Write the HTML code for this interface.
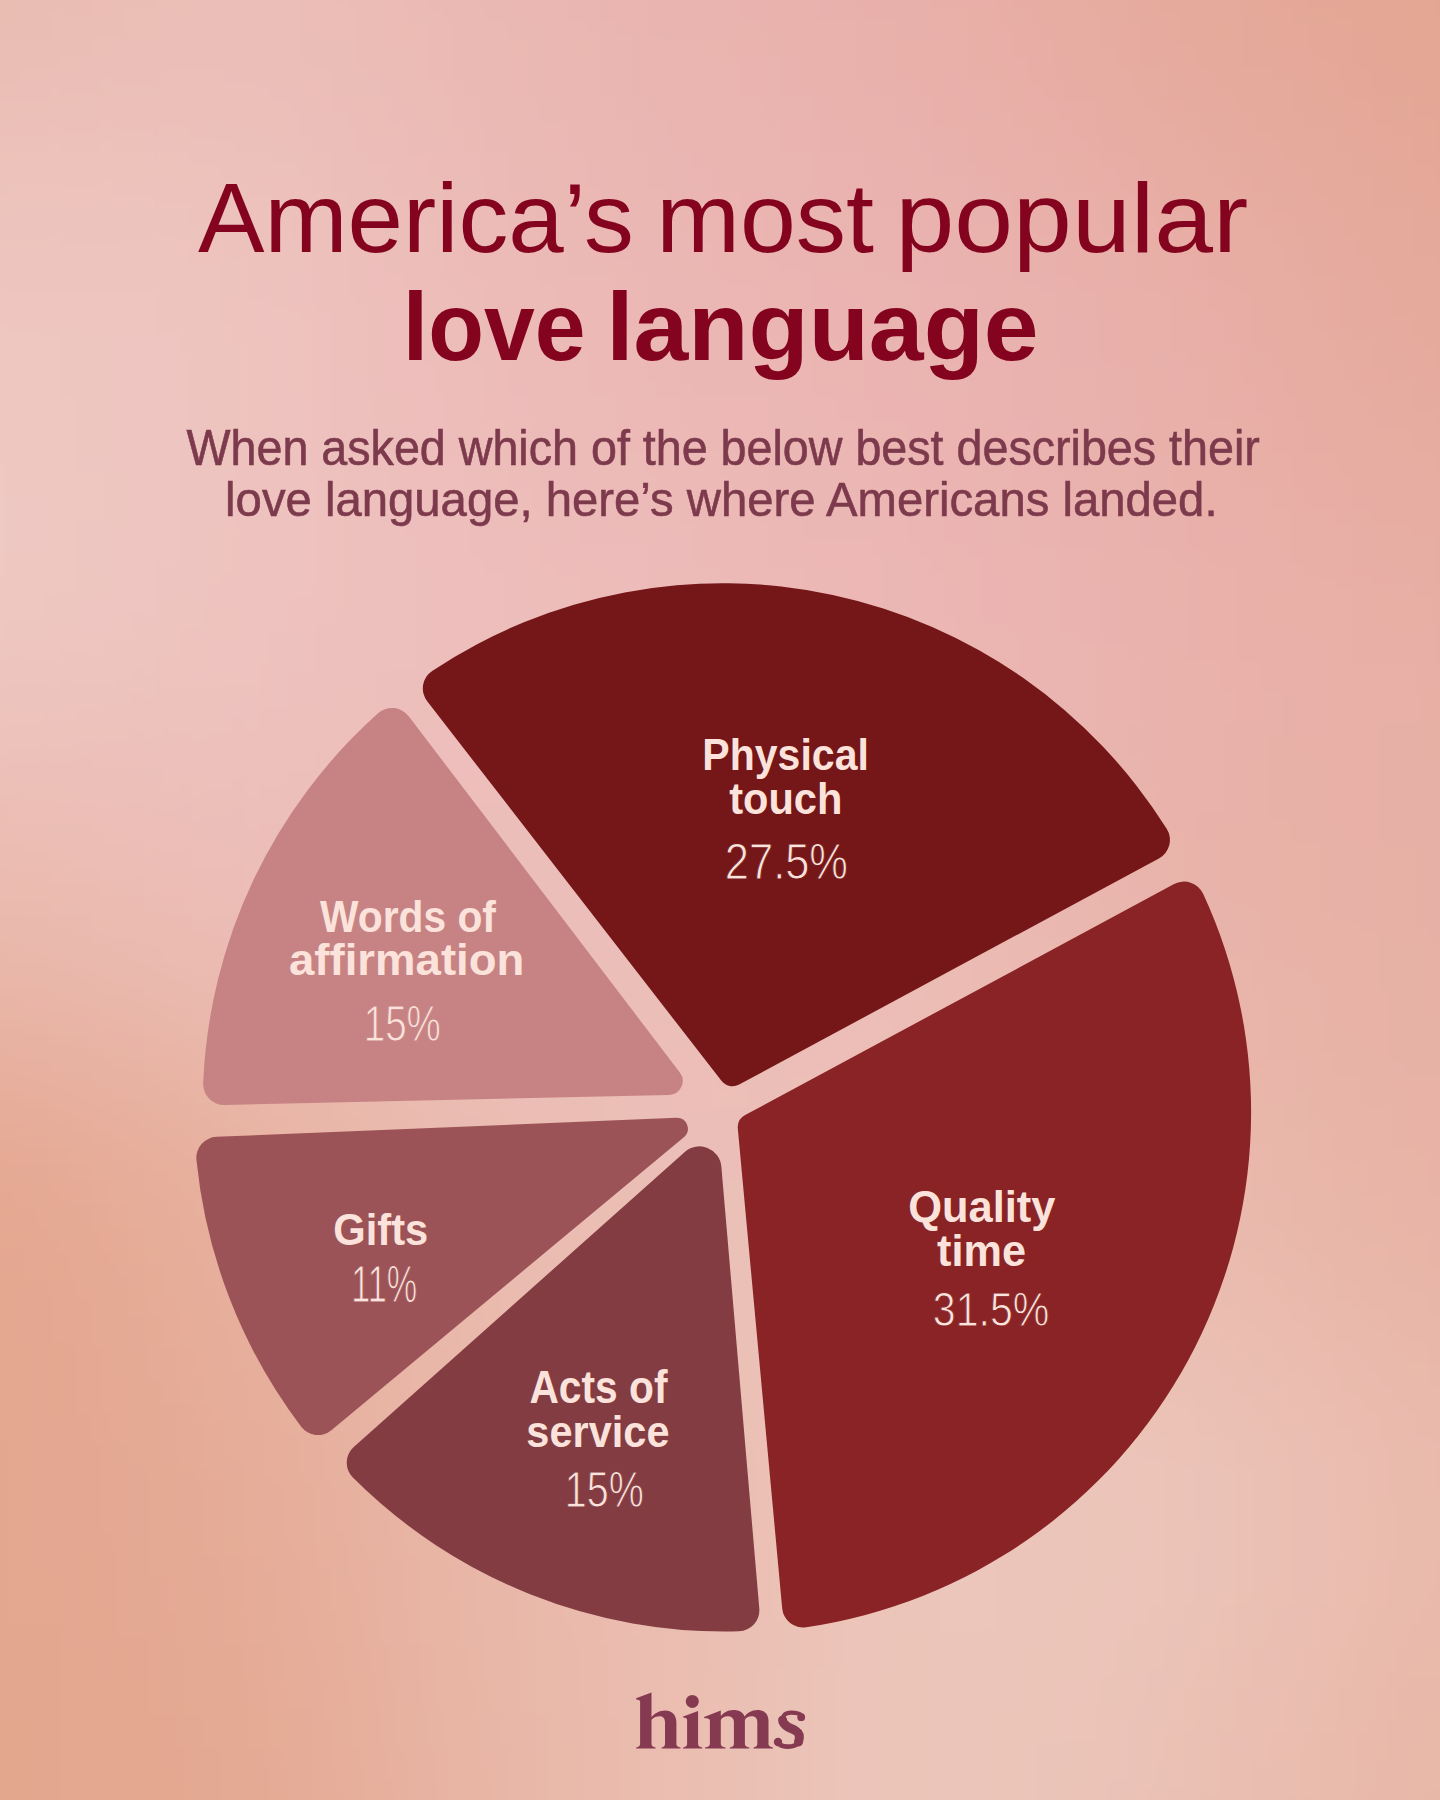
<!DOCTYPE html>
<html><head><meta charset="utf-8"><title>America’s most popular love language</title>
<style>
html,body{margin:0;padding:0;}
body{width:1440px;height:1800px;position:relative;overflow:hidden;background:#e8b5a8;font-family:"Liberation Sans",sans-serif;}
.bg{position:absolute;left:0;top:0;}
.pie{position:absolute;left:0;top:0;}
.tx{position:absolute;left:0;top:0;font-size:100px;line-height:100px;white-space:nowrap;transform-origin:0 0;}
</style></head><body>
<svg class="bg" width="1440" height="1800" viewBox="0 0 1440 1800">
<defs><filter id="bl" x="-50%" y="-50%" width="200%" height="200%" filterUnits="userSpaceOnUse"><feGaussianBlur stdDeviation="110"/></filter></defs>
<g filter="url(#bl)"><rect x="-840.0" y="-1050.0" width="241.0" height="301.0" fill="#e9bbb1"/><rect x="-600.0" y="-1050.0" width="241.0" height="301.0" fill="#e9bbb1"/><rect x="-360.0" y="-1050.0" width="241.0" height="301.0" fill="#e9bbb1"/><rect x="-120.0" y="-1050.0" width="241.0" height="301.0" fill="#e9bbb1"/><rect x="120.0" y="-1050.0" width="241.0" height="301.0" fill="#ebbfb7"/><rect x="360.0" y="-1050.0" width="241.0" height="301.0" fill="#eab8b2"/><rect x="600.0" y="-1050.0" width="241.0" height="301.0" fill="#e9b3ae"/><rect x="840.0" y="-1050.0" width="241.0" height="301.0" fill="#e8afa8"/><rect x="1080.0" y="-1050.0" width="241.0" height="301.0" fill="#e5a99a"/><rect x="1320.0" y="-1050.0" width="241.0" height="301.0" fill="#e3a693"/><rect x="1560.0" y="-1050.0" width="241.0" height="301.0" fill="#e3a693"/><rect x="1800.0" y="-1050.0" width="241.0" height="301.0" fill="#e3a693"/><rect x="2040.0" y="-1050.0" width="241.0" height="301.0" fill="#e3a693"/><rect x="-840.0" y="-750.0" width="241.0" height="301.0" fill="#e9bbb1"/><rect x="-600.0" y="-750.0" width="241.0" height="301.0" fill="#e9bbb1"/><rect x="-360.0" y="-750.0" width="241.0" height="301.0" fill="#e9bbb1"/><rect x="-120.0" y="-750.0" width="241.0" height="301.0" fill="#e9bbb1"/><rect x="120.0" y="-750.0" width="241.0" height="301.0" fill="#ebbfb7"/><rect x="360.0" y="-750.0" width="241.0" height="301.0" fill="#eab8b2"/><rect x="600.0" y="-750.0" width="241.0" height="301.0" fill="#e9b3ae"/><rect x="840.0" y="-750.0" width="241.0" height="301.0" fill="#e8afa8"/><rect x="1080.0" y="-750.0" width="241.0" height="301.0" fill="#e5a99a"/><rect x="1320.0" y="-750.0" width="241.0" height="301.0" fill="#e3a693"/><rect x="1560.0" y="-750.0" width="241.0" height="301.0" fill="#e3a693"/><rect x="1800.0" y="-750.0" width="241.0" height="301.0" fill="#e3a693"/><rect x="2040.0" y="-750.0" width="241.0" height="301.0" fill="#e3a693"/><rect x="-840.0" y="-450.0" width="241.0" height="301.0" fill="#e9bbb1"/><rect x="-600.0" y="-450.0" width="241.0" height="301.0" fill="#e9bbb1"/><rect x="-360.0" y="-450.0" width="241.0" height="301.0" fill="#e9bbb1"/><rect x="-120.0" y="-450.0" width="241.0" height="301.0" fill="#e9bbb1"/><rect x="120.0" y="-450.0" width="241.0" height="301.0" fill="#ebbfb7"/><rect x="360.0" y="-450.0" width="241.0" height="301.0" fill="#eab8b2"/><rect x="600.0" y="-450.0" width="241.0" height="301.0" fill="#e9b3ae"/><rect x="840.0" y="-450.0" width="241.0" height="301.0" fill="#e8afa8"/><rect x="1080.0" y="-450.0" width="241.0" height="301.0" fill="#e5a99a"/><rect x="1320.0" y="-450.0" width="241.0" height="301.0" fill="#e3a693"/><rect x="1560.0" y="-450.0" width="241.0" height="301.0" fill="#e3a693"/><rect x="1800.0" y="-450.0" width="241.0" height="301.0" fill="#e3a693"/><rect x="2040.0" y="-450.0" width="241.0" height="301.0" fill="#e3a693"/><rect x="-840.0" y="-150.0" width="241.0" height="301.0" fill="#e9bbb1"/><rect x="-600.0" y="-150.0" width="241.0" height="301.0" fill="#e9bbb1"/><rect x="-360.0" y="-150.0" width="241.0" height="301.0" fill="#e9bbb1"/><rect x="-120.0" y="-150.0" width="241.0" height="301.0" fill="#e9bbb1"/><rect x="120.0" y="-150.0" width="241.0" height="301.0" fill="#ebbfb7"/><rect x="360.0" y="-150.0" width="241.0" height="301.0" fill="#eab8b2"/><rect x="600.0" y="-150.0" width="241.0" height="301.0" fill="#e9b3ae"/><rect x="840.0" y="-150.0" width="241.0" height="301.0" fill="#e8afa8"/><rect x="1080.0" y="-150.0" width="241.0" height="301.0" fill="#e5a99a"/><rect x="1320.0" y="-150.0" width="241.0" height="301.0" fill="#e3a693"/><rect x="1560.0" y="-150.0" width="241.0" height="301.0" fill="#e3a693"/><rect x="1800.0" y="-150.0" width="241.0" height="301.0" fill="#e3a693"/><rect x="2040.0" y="-150.0" width="241.0" height="301.0" fill="#e3a693"/><rect x="-840.0" y="150.0" width="241.0" height="301.0" fill="#eec7c0"/><rect x="-600.0" y="150.0" width="241.0" height="301.0" fill="#eec7c0"/><rect x="-360.0" y="150.0" width="241.0" height="301.0" fill="#eec7c0"/><rect x="-120.0" y="150.0" width="241.0" height="301.0" fill="#eec7c0"/><rect x="120.0" y="150.0" width="241.0" height="301.0" fill="#eec4c0"/><rect x="360.0" y="150.0" width="241.0" height="301.0" fill="#ecbbb8"/><rect x="600.0" y="150.0" width="241.0" height="301.0" fill="#ebb6b3"/><rect x="840.0" y="150.0" width="241.0" height="301.0" fill="#eab3b0"/><rect x="1080.0" y="150.0" width="241.0" height="301.0" fill="#e8afa8"/><rect x="1320.0" y="150.0" width="241.0" height="301.0" fill="#e5a99a"/><rect x="1560.0" y="150.0" width="241.0" height="301.0" fill="#e5a99a"/><rect x="1800.0" y="150.0" width="241.0" height="301.0" fill="#e5a99a"/><rect x="2040.0" y="150.0" width="241.0" height="301.0" fill="#e5a99a"/><rect x="-840.0" y="450.0" width="241.0" height="301.0" fill="#eec9c3"/><rect x="-600.0" y="450.0" width="241.0" height="301.0" fill="#eec9c3"/><rect x="-360.0" y="450.0" width="241.0" height="301.0" fill="#eec9c3"/><rect x="-120.0" y="450.0" width="241.0" height="301.0" fill="#eec9c3"/><rect x="120.0" y="450.0" width="241.0" height="301.0" fill="#eec3c0"/><rect x="360.0" y="450.0" width="241.0" height="301.0" fill="#edbebc"/><rect x="600.0" y="450.0" width="241.0" height="301.0" fill="#ecbab8"/><rect x="840.0" y="450.0" width="241.0" height="301.0" fill="#ebb5b3"/><rect x="1080.0" y="450.0" width="241.0" height="301.0" fill="#e9b1ab"/><rect x="1320.0" y="450.0" width="241.0" height="301.0" fill="#e7aea4"/><rect x="1560.0" y="450.0" width="241.0" height="301.0" fill="#e7aea4"/><rect x="1800.0" y="450.0" width="241.0" height="301.0" fill="#e7aea4"/><rect x="2040.0" y="450.0" width="241.0" height="301.0" fill="#e7aea4"/><rect x="-840.0" y="750.0" width="241.0" height="301.0" fill="#eabaae"/><rect x="-600.0" y="750.0" width="241.0" height="301.0" fill="#eabaae"/><rect x="-360.0" y="750.0" width="241.0" height="301.0" fill="#eabaae"/><rect x="-120.0" y="750.0" width="241.0" height="301.0" fill="#eabaae"/><rect x="120.0" y="750.0" width="241.0" height="301.0" fill="#ecbeb8"/><rect x="360.0" y="750.0" width="241.0" height="301.0" fill="#ecbfba"/><rect x="600.0" y="750.0" width="241.0" height="301.0" fill="#ecbeb9"/><rect x="840.0" y="750.0" width="241.0" height="301.0" fill="#ebbab4"/><rect x="1080.0" y="750.0" width="241.0" height="301.0" fill="#e8b2a9"/><rect x="1320.0" y="750.0" width="241.0" height="301.0" fill="#e7b0a5"/><rect x="1560.0" y="750.0" width="241.0" height="301.0" fill="#e7b0a5"/><rect x="1800.0" y="750.0" width="241.0" height="301.0" fill="#e7b0a5"/><rect x="2040.0" y="750.0" width="241.0" height="301.0" fill="#e7b0a5"/><rect x="-840.0" y="1050.0" width="241.0" height="301.0" fill="#e4a68e"/><rect x="-600.0" y="1050.0" width="241.0" height="301.0" fill="#e4a68e"/><rect x="-360.0" y="1050.0" width="241.0" height="301.0" fill="#e4a68e"/><rect x="-120.0" y="1050.0" width="241.0" height="301.0" fill="#e4a68e"/><rect x="120.0" y="1050.0" width="241.0" height="301.0" fill="#e7b09c"/><rect x="360.0" y="1050.0" width="241.0" height="301.0" fill="#eabcb1"/><rect x="600.0" y="1050.0" width="241.0" height="301.0" fill="#ebc0b7"/><rect x="840.0" y="1050.0" width="241.0" height="301.0" fill="#ecc2b8"/><rect x="1080.0" y="1050.0" width="241.0" height="301.0" fill="#eab9ad"/><rect x="1320.0" y="1050.0" width="241.0" height="301.0" fill="#e7b2a4"/><rect x="1560.0" y="1050.0" width="241.0" height="301.0" fill="#e7b2a4"/><rect x="1800.0" y="1050.0" width="241.0" height="301.0" fill="#e7b2a4"/><rect x="2040.0" y="1050.0" width="241.0" height="301.0" fill="#e7b2a4"/><rect x="-840.0" y="1350.0" width="241.0" height="301.0" fill="#e3a68f"/><rect x="-600.0" y="1350.0" width="241.0" height="301.0" fill="#e3a68f"/><rect x="-360.0" y="1350.0" width="241.0" height="301.0" fill="#e3a68f"/><rect x="-120.0" y="1350.0" width="241.0" height="301.0" fill="#e3a68f"/><rect x="120.0" y="1350.0" width="241.0" height="301.0" fill="#e5ab96"/><rect x="360.0" y="1350.0" width="241.0" height="301.0" fill="#e9b7a9"/><rect x="600.0" y="1350.0" width="241.0" height="301.0" fill="#ebbfb4"/><rect x="840.0" y="1350.0" width="241.0" height="301.0" fill="#edc7bc"/><rect x="1080.0" y="1350.0" width="241.0" height="301.0" fill="#ecc5b9"/><rect x="1320.0" y="1350.0" width="241.0" height="301.0" fill="#e9baac"/><rect x="1560.0" y="1350.0" width="241.0" height="301.0" fill="#e9baac"/><rect x="1800.0" y="1350.0" width="241.0" height="301.0" fill="#e9baac"/><rect x="2040.0" y="1350.0" width="241.0" height="301.0" fill="#e9baac"/><rect x="-840.0" y="1650.0" width="241.0" height="301.0" fill="#e3a78e"/><rect x="-600.0" y="1650.0" width="241.0" height="301.0" fill="#e3a78e"/><rect x="-360.0" y="1650.0" width="241.0" height="301.0" fill="#e3a78e"/><rect x="-120.0" y="1650.0" width="241.0" height="301.0" fill="#e3a78e"/><rect x="120.0" y="1650.0" width="241.0" height="301.0" fill="#e4a891"/><rect x="360.0" y="1650.0" width="241.0" height="301.0" fill="#e8b5a5"/><rect x="600.0" y="1650.0" width="241.0" height="301.0" fill="#ebc0b4"/><rect x="840.0" y="1650.0" width="241.0" height="301.0" fill="#ecc7bc"/><rect x="1080.0" y="1650.0" width="241.0" height="301.0" fill="#eac0b3"/><rect x="1320.0" y="1650.0" width="241.0" height="301.0" fill="#e7b6a6"/><rect x="1560.0" y="1650.0" width="241.0" height="301.0" fill="#e7b6a6"/><rect x="1800.0" y="1650.0" width="241.0" height="301.0" fill="#e7b6a6"/><rect x="2040.0" y="1650.0" width="241.0" height="301.0" fill="#e7b6a6"/><rect x="-840.0" y="1950.0" width="241.0" height="301.0" fill="#e3a78e"/><rect x="-600.0" y="1950.0" width="241.0" height="301.0" fill="#e3a78e"/><rect x="-360.0" y="1950.0" width="241.0" height="301.0" fill="#e3a78e"/><rect x="-120.0" y="1950.0" width="241.0" height="301.0" fill="#e3a78e"/><rect x="120.0" y="1950.0" width="241.0" height="301.0" fill="#e4a891"/><rect x="360.0" y="1950.0" width="241.0" height="301.0" fill="#e8b5a5"/><rect x="600.0" y="1950.0" width="241.0" height="301.0" fill="#ebc0b4"/><rect x="840.0" y="1950.0" width="241.0" height="301.0" fill="#ecc7bc"/><rect x="1080.0" y="1950.0" width="241.0" height="301.0" fill="#eac0b3"/><rect x="1320.0" y="1950.0" width="241.0" height="301.0" fill="#e7b6a6"/><rect x="1560.0" y="1950.0" width="241.0" height="301.0" fill="#e7b6a6"/><rect x="1800.0" y="1950.0" width="241.0" height="301.0" fill="#e7b6a6"/><rect x="2040.0" y="1950.0" width="241.0" height="301.0" fill="#e7b6a6"/><rect x="-840.0" y="2250.0" width="241.0" height="301.0" fill="#e3a78e"/><rect x="-600.0" y="2250.0" width="241.0" height="301.0" fill="#e3a78e"/><rect x="-360.0" y="2250.0" width="241.0" height="301.0" fill="#e3a78e"/><rect x="-120.0" y="2250.0" width="241.0" height="301.0" fill="#e3a78e"/><rect x="120.0" y="2250.0" width="241.0" height="301.0" fill="#e4a891"/><rect x="360.0" y="2250.0" width="241.0" height="301.0" fill="#e8b5a5"/><rect x="600.0" y="2250.0" width="241.0" height="301.0" fill="#ebc0b4"/><rect x="840.0" y="2250.0" width="241.0" height="301.0" fill="#ecc7bc"/><rect x="1080.0" y="2250.0" width="241.0" height="301.0" fill="#eac0b3"/><rect x="1320.0" y="2250.0" width="241.0" height="301.0" fill="#e7b6a6"/><rect x="1560.0" y="2250.0" width="241.0" height="301.0" fill="#e7b6a6"/><rect x="1800.0" y="2250.0" width="241.0" height="301.0" fill="#e7b6a6"/><rect x="2040.0" y="2250.0" width="241.0" height="301.0" fill="#e7b6a6"/><rect x="-840.0" y="2550.0" width="241.0" height="301.0" fill="#e3a78e"/><rect x="-600.0" y="2550.0" width="241.0" height="301.0" fill="#e3a78e"/><rect x="-360.0" y="2550.0" width="241.0" height="301.0" fill="#e3a78e"/><rect x="-120.0" y="2550.0" width="241.0" height="301.0" fill="#e3a78e"/><rect x="120.0" y="2550.0" width="241.0" height="301.0" fill="#e4a891"/><rect x="360.0" y="2550.0" width="241.0" height="301.0" fill="#e8b5a5"/><rect x="600.0" y="2550.0" width="241.0" height="301.0" fill="#ebc0b4"/><rect x="840.0" y="2550.0" width="241.0" height="301.0" fill="#ecc7bc"/><rect x="1080.0" y="2550.0" width="241.0" height="301.0" fill="#eac0b3"/><rect x="1320.0" y="2550.0" width="241.0" height="301.0" fill="#e7b6a6"/><rect x="1560.0" y="2550.0" width="241.0" height="301.0" fill="#e7b6a6"/><rect x="1800.0" y="2550.0" width="241.0" height="301.0" fill="#e7b6a6"/><rect x="2040.0" y="2550.0" width="241.0" height="301.0" fill="#e7b6a6"/></g></svg>
<svg class="pie" width="1440" height="1800" viewBox="0 0 1440 1800">
<path d="M 721.43 1080.84 L 427.21 701.31 A 21.00 21.00 0 0 1 432.18 670.96 A 524.40 524.40 0 0 1 1166.71 828.75 A 21.00 21.00 0 0 1 1158.89 858.40 L 739.13 1084.58 A 14.00 14.00 0 0 1 721.43 1080.84 Z" fill="#751618"/>
<path d="M 745.13 1115.09 L 1174.10 884.11 A 21.00 21.00 0 0 1 1203.13 893.79 A 520.70 520.70 0 0 1 806.18 1627.26 A 21.00 21.00 0 0 1 782.21 1608.41 L 737.82 1128.71 A 14.00 14.00 0 0 1 745.13 1115.09 Z" fill="#892325"/>
<path d="M 721.34 1166.46 L 759.30 1608.52 A 21.00 21.00 0 0 1 738.95 1631.31 A 526.00 526.00 0 0 1 352.88 1477.56 A 21.00 21.00 0 0 1 353.75 1447.03 L 684.78 1151.92 A 22.00 22.00 0 0 1 721.34 1166.46 Z" fill="#843c43"/>
<path d="M 683.85 1137.18 L 331.37 1430.26 A 21.00 21.00 0 0 1 301.20 1426.80 A 529.50 529.50 0 0 1 196.44 1159.91 A 21.00 21.00 0 0 1 216.46 1136.83 L 676.36 1117.73 A 11.00 11.00 0 0 1 683.85 1137.18 Z" fill="#9c5357"/>
<path d="M 669.00 1094.99 L 224.63 1104.97 A 21.00 21.00 0 0 1 203.17 1083.09 A 526.00 526.00 0 0 1 378.02 713.36 A 21.00 21.00 0 0 1 408.73 716.29 L 679.83 1072.51 A 14.00 14.00 0 0 1 669.00 1094.99 Z" fill="#c78384"/>
</svg>
<div class="tx" style="font-family:'Liberation Sans',serif;font-weight:400;color:#84041f;transform:translate(198.00px,169.27px) scale(0.9972,0.9736)">America’s</div>
<div class="tx" style="font-family:'Liberation Sans',serif;font-weight:400;color:#84041f;transform:translate(656.27px,169.27px) scale(1.0048,0.9736)">most</div>
<div class="tx" style="font-family:'Liberation Sans',serif;font-weight:400;color:#84041f;transform:translate(895.50px,169.27px) scale(1.0572,0.9736)">popular</div>
<div class="tx" style="font-family:'Liberation Sans',serif;font-weight:700;color:#84041f;transform:translate(402.81px,277.43px) scale(0.9126,0.9717)">love</div>
<div class="tx" style="font-family:'Liberation Sans',serif;font-weight:700;color:#84041f;transform:translate(606.20px,277.43px) scale(0.9850,0.9717)">language</div>
<div class="tx" style="font-family:'Liberation Sans',serif;font-weight:400;color:#7c3a4c;-webkit-text-stroke:1.2px #7c3a4c;transform:translate(186.53px,422.46px) scale(0.4664,0.4947)">When asked which of the below best describes their</div>
<div class="tx" style="font-family:'Liberation Sans',serif;font-weight:400;color:#7c3a4c;-webkit-text-stroke:1.2px #7c3a4c;transform:translate(225.09px,474.73px) scale(0.4727,0.4892)">love language, here’s where Americans landed.</div>
<div class="tx" style="font-family:'Liberation Sans',serif;font-weight:700;color:#fbe3dc;transform:translate(702.33px,731.20px) scale(0.4105,0.4524)">Physical</div>
<div class="tx" style="font-family:'Liberation Sans',serif;font-weight:700;color:#fbe3dc;transform:translate(729.18px,776.41px) scale(0.4158,0.4406)">touch</div>
<div class="tx" style="font-family:'Liberation Sans',serif;font-weight:400;color:#fbe3dc;-webkit-text-stroke:2px #751618;transform:translate(724.83px,836.48px) scale(0.4342,0.5014)">27.5%</div>
<div class="tx" style="font-family:'Liberation Sans',serif;font-weight:700;color:#fbe3dc;transform:translate(320.00px,894.49px) scale(0.4076,0.4420)">Words of</div>
<div class="tx" style="font-family:'Liberation Sans',serif;font-weight:700;color:#fbe3dc;transform:translate(289.03px,937.89px) scale(0.4554,0.4420)">affirmation</div>
<div class="tx" style="font-family:'Liberation Sans',serif;font-weight:400;color:#fbe3dc;-webkit-text-stroke:2px #c78384;transform:translate(363.71px,998.37px) scale(0.3857,0.4957)">15%</div>
<div class="tx" style="font-family:'Liberation Sans',serif;font-weight:700;color:#fbe3dc;transform:translate(333.33px,1206.91px) scale(0.4168,0.4475)">Gifts</div>
<div class="tx" style="font-family:'Liberation Sans',serif;font-weight:400;color:#fbe3dc;-webkit-text-stroke:2px #9c5357;transform:translate(351.27px,1258.52px) scale(0.3414,0.5114)">11%</div>
<div class="tx" style="font-family:'Liberation Sans',serif;font-weight:700;color:#fbe3dc;transform:translate(529.38px,1364.37px) scale(0.4074,0.4579)">Acts of</div>
<div class="tx" style="font-family:'Liberation Sans',serif;font-weight:700;color:#fbe3dc;transform:translate(526.34px,1409.25px) scale(0.4154,0.4448)">service</div>
<div class="tx" style="font-family:'Liberation Sans',serif;font-weight:400;color:#fbe3dc;-webkit-text-stroke:2px #843c43;transform:translate(564.85px,1464.50px) scale(0.3942,0.5000)">15%</div>
<div class="tx" style="font-family:'Liberation Sans',serif;font-weight:700;color:#fbe3dc;transform:translate(908.26px,1183.89px) scale(0.4341,0.4489)">Quality</div>
<div class="tx" style="font-family:'Liberation Sans',serif;font-weight:700;color:#fbe3dc;transform:translate(937.07px,1228.00px) scale(0.4323,0.4448)">time</div>
<div class="tx" style="font-family:'Liberation Sans',serif;font-weight:400;color:#fbe3dc;-webkit-text-stroke:2px #892325;transform:translate(932.75px,1284.64px) scale(0.4116,0.4838)">31.5%</div>
<svg class="logo" width="1440" height="1800" viewBox="0 0 1440 1800" style="position:absolute;left:0;top:0">
<g fill="#863a52">
<path d="M 651.5 1692.5 L 636.1 1698.3 L 636.1 1699.4 Q 640.1 1699.7 640.1 1701.5 L 640.1 1744 Q 640.1 1747 636.1 1747.4 L 636.1 1748.6 L 655.6 1748.6 L 655.6 1747.4 Q 651.5 1747 651.5 1744 L 651.5 1719.8 C 653.5 1717.3 656.8 1716.2 659.6 1716.2 C 663.3 1716.2 665 1718.6 665 1722.5 L 665 1744 Q 665 1747 661.6 1747.4 L 661.6 1748.6 L 680.6 1748.6 L 680.6 1747.4 Q 676.4 1747 676.4 1744 L 676.4 1722.5 C 676.4 1714.5 671.5 1710.6 665.3 1710.6 C 659.5 1710.6 654.5 1713.4 651.5 1717.3 Z"/>
<path d="M 698.1 1710.9 L 683.1 1716.4 L 683.1 1717.6 Q 687.1 1717.8 687.1 1720 L 687.1 1744 Q 687.1 1747 683 1747.4 L 683 1748.6 L 702.3 1748.6 L 702.3 1747.4 Q 698.1 1747 698.1 1744 Z"/>
<circle cx="692.3" cy="1701.4" r="6.5"/>
<path d="M 720.8 1710.5 L 704.1 1716.9 L 704.1 1718 Q 709.9 1718.3 709.9 1720.5 L 709.9 1744 Q 709.9 1747 705 1747.4 L 705 1748.6 L 725.5 1748.6 L 725.5 1747.4 Q 720.8 1747 720.8 1744 L 720.8 1720 C 722 1717.5 724.5 1716.3 727.3 1716.3 C 731 1716.3 733.9 1718 733.9 1722 L 733.9 1744 Q 733.9 1747 729.8 1747.4 L 729.8 1748.6 L 749.3 1748.6 L 749.3 1747.4 Q 744.9 1747 744.9 1744 L 744.9 1720 C 746 1717.5 748.5 1716.3 751.4 1716.3 C 755 1716.3 757.3 1718 757.3 1722 L 757.3 1744 Q 757.3 1747 753.5 1747.4 L 753.5 1748.6 L 773 1748.6 L 773 1747.4 Q 768.5 1747 768.5 1744 L 768.5 1721 C 768.5 1713.5 764 1710 757.5 1710 C 751.5 1710 747 1713 744.6 1716.5 C 743 1712 738.5 1710 733.5 1710 C 727.5 1710 723.5 1713 720.8 1716 Z"/>
<circle cx="801.2" cy="1717.2" r="3.9"/>
<circle cx="778" cy="1742" r="4.2"/>
</g>
<g fill="none" stroke="#863a52" stroke-linecap="round">
<path d="M 801.5 1715.5 C 799 1712.5 795 1712.6 791 1712.6 C 785 1712.6 782.3 1716 782.5 1720" stroke-width="4.2"/>
<path d="M 782.6 1720 C 783 1726 791 1728 796 1731 C 801 1734 799.5 1739 798.5 1742" stroke-width="9"/>
<path d="M 798.5 1742 C 796.5 1746 791 1746.7 787 1746.6 C 782 1746.4 779 1744.5 777.5 1742" stroke-width="4.6"/>
</g>
</svg>

</body></html>
